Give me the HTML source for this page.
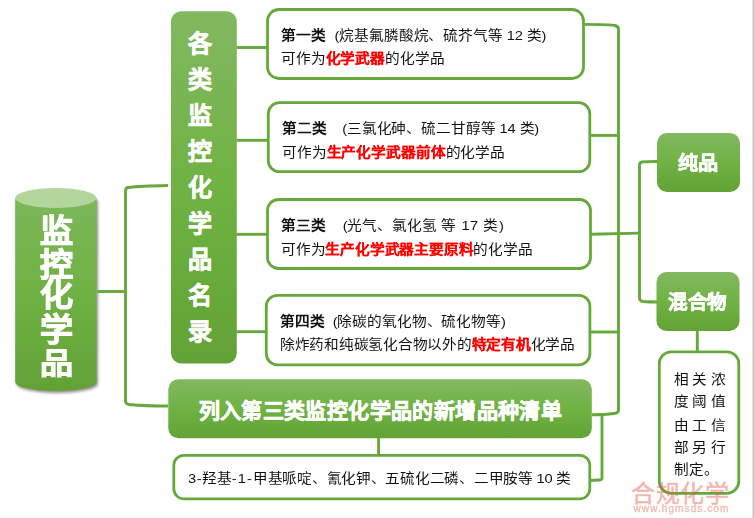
<!DOCTYPE html>
<html lang="zh-CN">
<head>
<meta charset="utf-8">
<style>
html,body{margin:0;padding:0;background:#fff;}
body{width:754px;height:518px;position:relative;overflow:hidden;font-family:"Liberation Sans",sans-serif;color:#111;}
svg.bg{position:absolute;left:0;top:0;}
.t{position:absolute;white-space:nowrap;font-size:14.67px;line-height:17px;letter-spacing:-0.13px;transform:scaleY(0.9);transform-origin:0 50%;}
.b{font-weight:bold;}
.r{color:#f00;font-weight:bold;-webkit-text-stroke:0.1px #f00;}
.w{color:#fff;font-weight:bold;position:absolute;white-space:nowrap;-webkit-text-stroke:0.6px #fff;}
.vcol{position:absolute;color:#fff;font-weight:bold;text-align:center;-webkit-text-stroke:0.6px #fff;}
.vcol span{display:block;}
.cy{position:absolute;left:38px;width:36px;text-align:center;color:#fff;font-weight:bold;font-size:33px;line-height:33.5px;transform:scaleY(0.97);-webkit-text-stroke:1.1px #fff;}
</style>
</head>
<body>
<svg class="bg" width="754" height="518" viewBox="0 0 754 518">
  <defs>
    <linearGradient id="gv" x1="0" y1="0" x2="0" y2="1">
      <stop offset="0" stop-color="#82b860"/>
      <stop offset="0.5" stop-color="#70b243"/>
      <stop offset="1" stop-color="#62a236"/>
    </linearGradient>
    <linearGradient id="gc" x1="0" y1="0" x2="0" y2="1">
      <stop offset="0" stop-color="#7db75a"/>
      <stop offset="0.5" stop-color="#70b143"/>
      <stop offset="1" stop-color="#61a136"/>
    </linearGradient>
    <filter id="sh" x="-20%" y="-20%" width="140%" height="140%">
      <feGaussianBlur stdDeviation="1.5"/>
    </filter>
  </defs>
  <!-- right edge gray -->
  <rect x="752" y="0" width="1" height="518" fill="#e4e4e4"/>
  <rect x="753" y="0" width="1" height="518" fill="#c2c2c2"/>

  <!-- cylinder -->
  <path d="M16.5 200 V384 A40.7 9 0 0 0 97.9 384 V200 Z" fill="#000" opacity="0.45" filter="url(#sh)"/>
  <path d="M15.2 198 V382 A40.65 9 0 0 0 96.5 382 V198 Z" fill="url(#gc)"/>
  <ellipse cx="55.85" cy="198" rx="40.65" ry="10" fill="#b2d69c"/>
  <g fill="none" stroke="#66a83c" stroke-width="2.9">
    <!-- left tree -->
    <path d="M97.3 291.5 H125.5"/>
    <path d="M168 185.5 Q140 186 128 187.5 Q125.5 188 125.5 191 V401 Q125.5 404 129 404.5 Q145 406 168 406"/>
    <!-- vertical box to category boxes -->
    <path d="M236.5 47.5 H267"/>
    <path d="M236.5 140.3 H268"/>
    <path d="M236.5 234.3 H267"/>
    <path d="M236.5 331.7 H266"/>
    <!-- right side -->
    <path d="M585 24.4 Q610 24.4 615 25.5 Q618.5 26.5 618.5 29 V410 Q618.5 413 614 413.5 Q605 414.7 592 414.7"/>
    <path d="M590 135.4 H618.5"/>
    <path d="M591 332 H618.5"/>
    <path d="M590 234.2 L640 233.1"/>
    <path d="M657 161.5 Q645 161.5 642 162 Q639.5 162.5 639.5 165 V298 Q639.5 301 643 301.5 Q650 302 657 302"/>
    <path d="M697.3 331 V351"/>
    <path d="M378.6 438 V455"/>
    <path d="M602 414.7 V478 Q602 480 599 480 L590 480.5"/>
  </g>

  <!-- category boxes -->
  <g fill="#fff" stroke="#66a83c" stroke-width="2.8">
    <rect x="267.5" y="9.5" width="316" height="69" rx="11.5"/>
    <rect x="268.3" y="102.7" width="321.5" height="69" rx="11"/>
    <rect x="267.5" y="199.5" width="323" height="69" rx="11"/>
    <rect x="266.3" y="295.3" width="323.6" height="69.5" rx="11"/>
    <rect x="173.8" y="455.3" width="416" height="43.5" rx="10"/>
    <rect x="659.3" y="351.8" width="79.5" height="141.5" rx="12"/>
  </g>

  <!-- green boxes -->
  <rect x="171" y="11.2" width="65.8" height="352.4" rx="10.5" fill="url(#gv)"/>
  <rect x="168.3" y="379.3" width="423.5" height="59" rx="10" fill="url(#gv)"/>
  <rect x="657" y="133" width="83" height="59" rx="10" fill="url(#gv)"/>
  <rect x="656.5" y="272" width="83" height="59" rx="10" fill="url(#gv)"/>

</svg>

<!-- cylinder text -->
<div class="cy" style="top:213.8px;">监</div>
<div class="cy" style="top:247.8px;">控</div>
<div class="cy" style="top:278.2px;">化</div>
<div class="cy" style="top:313.4px;">学</div>
<div class="cy" style="top:346.6px;transform:scaleY(0.88);">品</div>

<!-- vertical box text -->
<div class="vcol" style="left:186px;top:26px;width:28px;font-size:24px;line-height:35.95px;">
<span>各</span><span>类</span><span>监</span><span>控</span><span>化</span><span>学</span><span>品</span><span>名</span><span>录</span></div>

<!-- category box texts -->
<div class="t" style="left:281px;top:26.5px;"><span class="b">第一类</span><span style="margin-left:8.8px">(烷基氟膦酸烷、硫芥气等 12 类)</span></div>
<div class="t" style="left:281px;top:50.3px;">可作为<span class="r">化学武器</span>的化学品</div>

<div class="t" style="left:282px;top:119.6px;"><span class="b">第二类</span><span style="margin-left:15.5px">(三氯化砷、硫二甘醇等 14 类)</span></div>
<div class="t" style="left:282px;top:143.5px;">可作为<span class="r">生产化学武器前体</span>的化学品</div>

<div class="t" style="left:281px;top:217px;"><span class="b">第三类</span><span style="margin-left:17px">(光气、氯化氢<span style="letter-spacing:0.55px"> 等 17 类)</span></span></div>
<div class="t" style="left:281px;top:240.6px;letter-spacing:-0.2px;">可作为<span class="r">生产化学武器主要原料</span>的化学品</div>

<div class="t" style="left:280px;top:312.6px;"><span class="b">第四类</span><span style="margin-left:8px">(除碳的氧化物、硫化物等)</span></div>
<div class="t" style="left:280px;top:336.3px;letter-spacing:-0.26px;">除炸药和纯碳氢化合物以外的<span class="r">特定有机</span>化学品</div>

<div class="t" style="left:188px;top:470.4px;letter-spacing:-0.27px;"><span style="letter-spacing:0.6px">3-</span>羟基<span style="letter-spacing:1.1px">-1-</span>甲基哌啶、氰化钾、五硫化二磷、二甲胺等 10 类</div>

<!-- green bar -->
<div class="w" style="left:198.5px;top:398.5px;font-size:21px;line-height:24px;letter-spacing:0.4px;">列入第三类监控化学品的新增品种清单</div>

<div class="w" style="left:679px;top:153px;font-size:19px;line-height:22px;transform:scaleX(1.06);transform-origin:50% 50%;">纯品</div>
<div class="w" style="left:668.5px;top:292.3px;font-size:19px;line-height:22px;transform:scaleX(1.03);transform-origin:50% 50%;">混合物</div>

<!-- note -->
<div class="t" style="left:674px;top:370.7px;letter-spacing:3.3px;">相关浓</div>
<div class="t" style="left:674px;top:393.4px;letter-spacing:3.3px;">度阈值</div>
<div class="t" style="left:674px;top:417.4px;letter-spacing:3.3px;">由工信</div>
<div class="t" style="left:674px;top:438.8px;letter-spacing:3.3px;">部另行</div>
<div class="t" style="left:674px;top:461.2px;">制定。</div>

<!-- watermark -->
<div style="position:absolute;left:0;top:0;opacity:0.42;">
<div style="position:absolute;left:631px;top:479px;font-size:24px;line-height:30px;color:#e45444;-webkit-text-stroke:0.5px #e45444;letter-spacing:0.7px;white-space:nowrap;">合规化学</div>
<div style="position:absolute;left:633.5px;top:503px;font-size:10px;line-height:12px;color:#e45444;-webkit-text-stroke:0.3px #e45444;letter-spacing:1.1px;white-space:nowrap;">www.hgmsds.com</div>
</div>
</body>
</html>
